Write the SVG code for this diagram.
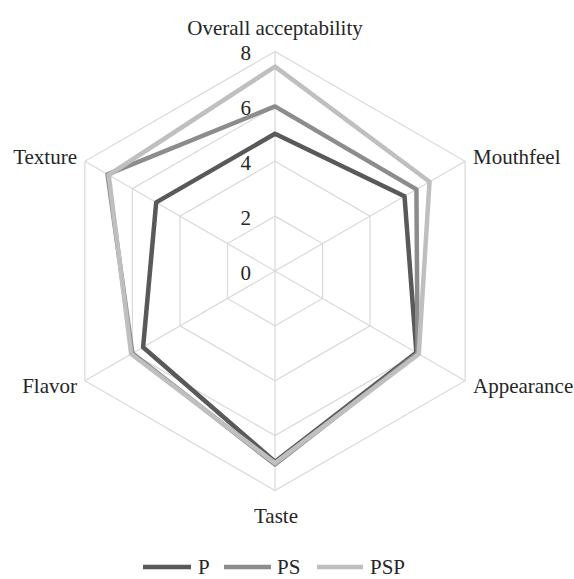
<svg xmlns="http://www.w3.org/2000/svg" width="574" height="579" viewBox="0 0 574 579">
<style>
text{font-family:"Liberation Serif","Times New Roman",serif;font-size:21px;fill:#262626}
.grid{fill:none;stroke:#d9d9d9;stroke-width:1.2}
.s{fill:none;stroke-width:4.5;stroke-linejoin:round;stroke-linecap:butt}
.p{stroke:#595959}.ps{stroke:#8c8c8c}.psp{stroke:#bfbfbf}
.tick{text-anchor:end}
</style>
<rect width="574" height="579" fill="#ffffff"/>
<g id="grid">
<polygon class="grid" points="275,51.48 465.11,161.24 465.11,380.76 275,490.52 84.89,380.76 84.89,161.24"/>
<polygon class="grid" points="275,106.36 417.58,188.68 417.58,353.32 275,435.64 132.42,353.32 132.42,188.68"/>
<polygon class="grid" points="275,161.24 370.05,216.12 370.05,325.88 275,380.76 179.95,325.88 179.95,216.12"/>
<polygon class="grid" points="275,216.12 322.53,243.56 322.53,298.44 275,325.88 227.47,298.44 227.47,243.56"/>
<path class="grid" d="M275,271L275,51.48M275,271L465.11,161.24M275,271L465.11,380.76M275,271L275,490.52M275,271L84.89,380.76M275,271L84.89,161.24"/>
</g>
<g id="ticks">
<text class="tick" x="251" y="280">0</text>
<text class="tick" x="251" y="225">2</text>
<text class="tick" x="251" y="170">4</text>
<text class="tick" x="251" y="115">6</text>
<text class="tick" x="251" y="60">8</text>
</g>
<g id="axis-labels">
<text x="275" y="35" text-anchor="middle">Overall acceptability</text>
<text x="473" y="164">Mouthfeel</text>
<text x="473" y="393">Appearance</text>
<text x="276" y="523" text-anchor="middle">Taste</text>
<text x="77" y="393" text-anchor="end">Flavor</text>
<text x="77" y="164" text-anchor="end">Texture</text>
</g>
<g id="series-P"><polygon class="s p" points="275,133.8 404.5,196.2 416.4,352.6 275,461.7 143.1,347.2 156.2,202.4"/></g>
<g id="series-PS"><polygon class="s ps" points="275,106.4 416.4,189.4 417.6,353.3 275,464.4 132.4,353.3 107.5,174.3"/></g>
<g id="series-PSP"><polygon class="s psp" points="275,66.6 429.5,181.8 418.8,354 275,463.1 131.2,354 108.7,175"/></g>
<g id="legend">
<line class="s p" x1="143" y1="567" x2="191" y2="567"/>
<text x="198" y="574">P</text>
<line class="s ps" x1="224" y1="567" x2="271" y2="567"/>
<text x="277" y="574">PS</text>
<line class="s psp" x1="317" y1="567" x2="363" y2="567"/>
<text x="370" y="574">PSP</text>
</g>
</svg>
